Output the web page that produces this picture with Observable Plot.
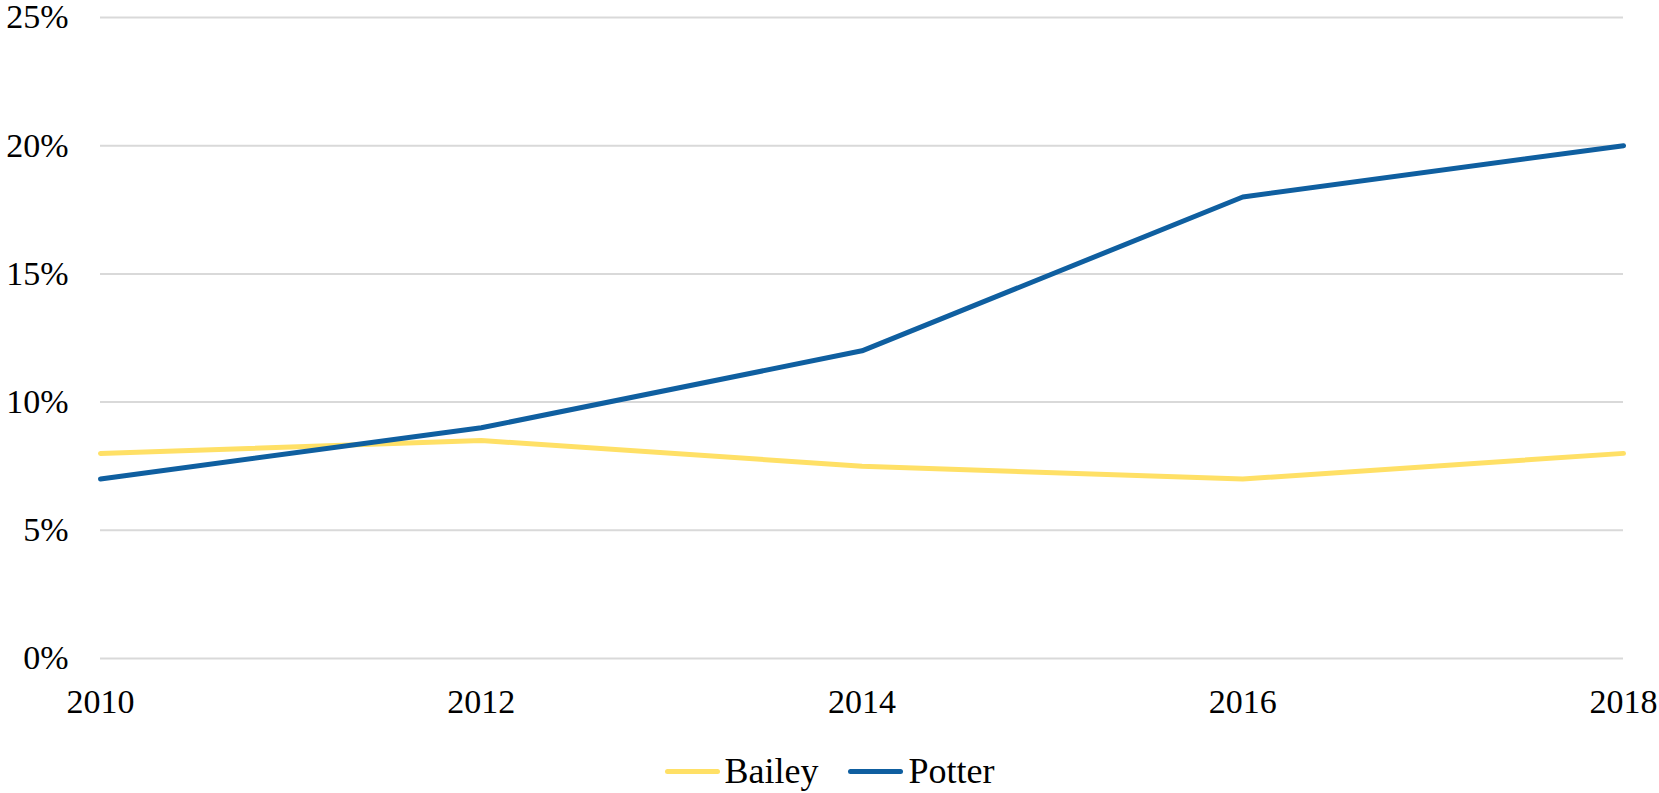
<!DOCTYPE html>
<html>
<head>
<meta charset="utf-8">
<script src="https://cdn.jsdelivr.net/npm/d3@7"></script>
<script src="https://cdn.jsdelivr.net/npm/@observablehq/plot@0.6"></script>
<style>
  html, body { margin: 0; padding: 0; background: #fff; }
  #chart svg { display: block; }
  .legend { display: flex; justify-content: center; align-items: center; gap: 30px;
    font-family: "Liberation Serif", "DejaVu Serif", serif; font-size: 36px; color: #000; height: 70px; margin-top: 6px; }
  .legend .item { display: flex; align-items: center; gap: 5px; }
  .legend .swatch { width: 55px; height: 5px; border-radius: 3px; }
</style>
</head>
<body>
<div id="chart"></div>
<div class="legend" id="legend"></div>
<script>
const years = [2010, 2012, 2014, 2016, 2018];
const series = ["Bailey", "Potter"];
const bailey = [8, 8.5, 7.5, 7, 8];
const potter = [7, 9, 12, 18, 20];
const colors = ["#FFE066", "#0F5FA0"];
const yTicks = [0, 5, 10, 15, 20, 25];

const data = [];
years.forEach((y, i) => data.push({year: y, value: bailey[i], series: "Bailey"}));
years.forEach((y, i) => data.push({year: y, value: potter[i], series: "Potter"}));

const chart = Plot.plot({
  width: 1659,
  height: 730,
  marginLeft: 100,
  marginRight: 36,
  marginTop: 17,
  marginBottom: 72,
  style: { fontFamily: "'Liberation Serif', 'DejaVu Serif', serif", fontSize: "34px", color: "#000", background: "#fff" },
  x: { domain: [2010, 2018], ticks: years, tickFormat: d => String(d), label: null },
  y: { domain: [0, 25], ticks: yTicks, tickFormat: d => d + "%", label: null },
  color: { domain: series, range: colors },
  marks: [
    Plot.ruleY(yTicks, { stroke: "#d9d9d9", strokeWidth: 2 }),
    Plot.axisY({ ticks: yTicks, tickFormat: d => d + "%", tickSize: 0, tickPadding: 32, fontSize: 34, label: null }),
    Plot.axisX({ ticks: years, tickFormat: d => String(d), tickSize: 0, tickPadding: 30, fontSize: 34, label: null }),
    Plot.line(data, { x: "year", y: "value", z: "series", stroke: "series", strokeWidth: 5, strokeLinecap: "round", strokeLinejoin: "round" })
  ]
});
document.getElementById("chart").appendChild(chart);

const legend = document.getElementById("legend");
series.forEach((s, i) => {
  const item = document.createElement("div");
  item.className = "item";
  const sw = document.createElement("div");
  sw.className = "swatch";
  sw.style.background = colors[i];
  const label = document.createElement("span");
  label.textContent = s;
  item.appendChild(sw);
  item.appendChild(label);
  legend.appendChild(item);
});
</script>
</body>
</html>
